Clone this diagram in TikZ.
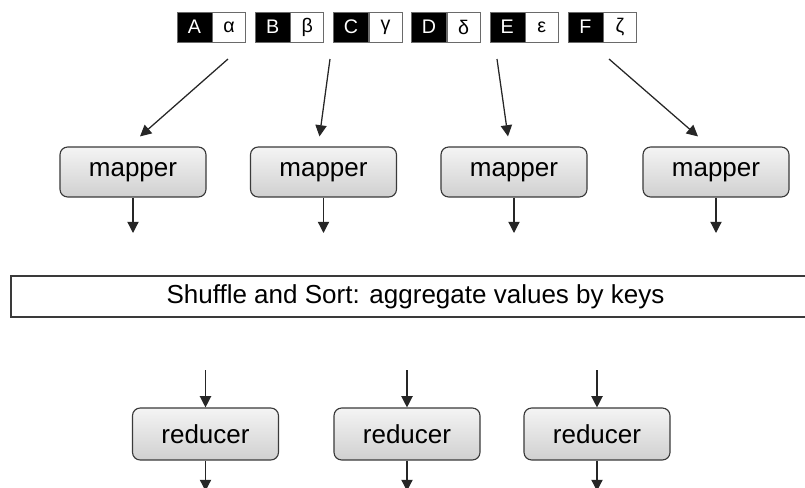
\documentclass[tikz,border=0pt]{standalone}
\usepackage{fontspec}
\setmainfont{Liberation Sans}
\usetikzlibrary{arrows.meta,positioning}
\definecolor{edge}{HTML}{3A3A3A}
\definecolor{shtop}{HTML}{F4F4F4}
\definecolor{shbot}{HTML}{D0D0D0}
\definecolor{pairline}{HTML}{6A6A6A}

\begin{document}
\begin{tikzpicture}[x=0.025cm,y=-0.025cm,
  proc/.style={draw=edge,line width=0.8pt,rounded corners=5.5pt,
               top color=shtop,bottom color=shbot,inner sep=0pt,
               minimum width=3.65cm,minimum height=1.25cm,
               font=\fontsize{18.5}{20}\selectfont},
  keybox/.style={draw=pairline,fill=black,text=white,inner sep=0pt,
                 minimum width=0.875cm,minimum height=0.75cm,
                 font=\fontsize{14}{16}\selectfont},
  valbox/.style={draw=pairline,fill=white,inner sep=0pt,
                 minimum width=0.825cm,minimum height=0.75cm,
                 font=\fontsize{14}{16}\selectfont},
  arr/.style={-{Triangle[length=8pt,width=8pt]},line width=0.9pt,black!85}]

\useasboundingbox (0,0) rectangle (805,488);

% input pairs
\foreach \k/\v [count=\i] in {A/α,B/β,C/γ,D/δ,E/ε,F/ζ}{
  \node[keybox] (k\i) at ({194.5+78.2*(\i-1)},27) {\k};
  \node[valbox,right=0pt of k\i] (v\i) {\v};
}

% mappers
\foreach \x [count=\i] in {133,323.5,514,716}{
  \node[proc] (m\i) at (\x,172) {mapper};
  \coordinate (mo\i) at (\x,233);
  \draw[arr] (m\i) -- (mo\i);
}

\coordinate (s1) at (228,59);
\coordinate (s2) at (330,59);
\coordinate (s3) at (497,59);
\coordinate (s4) at (609,59);
\coordinate (t1) at ([shift={(7,-10)}]m1.north);
\coordinate (t2) at ([shift={(-4,-10)}]m2.north);
\coordinate (t3) at ([shift={(-6,-10)}]m3.north);
\coordinate (t4) at ([shift={(-18,-10)}]m4.north);
\foreach \i in {1,...,4}
  \draw[arr] (s\i) -- (t\i);

% shuffle stage
\node[draw=edge,line width=1.1pt,fill=white,inner sep=0pt,
      minimum width=20.225cm,minimum height=1.025cm,
      font=\fontsize{18.5}{20}\selectfont] (shuf) at (415.5,296.5)
  {Shuffle and Sort: aggregate values by keys};

% reducers
\foreach \x [count=\i] in {205.5,407,597}{
  \node[proc,minimum height=1.3cm] (r\i) at (\x,434) {reducer};
  \coordinate (ri\i) at (\x,370);
  \coordinate (ro\i) at (\x,491);
  \draw[arr] (ri\i) -- (r\i);
  \draw[arr] (r\i) -- (ro\i);
}
\end{tikzpicture}
\end{document}
